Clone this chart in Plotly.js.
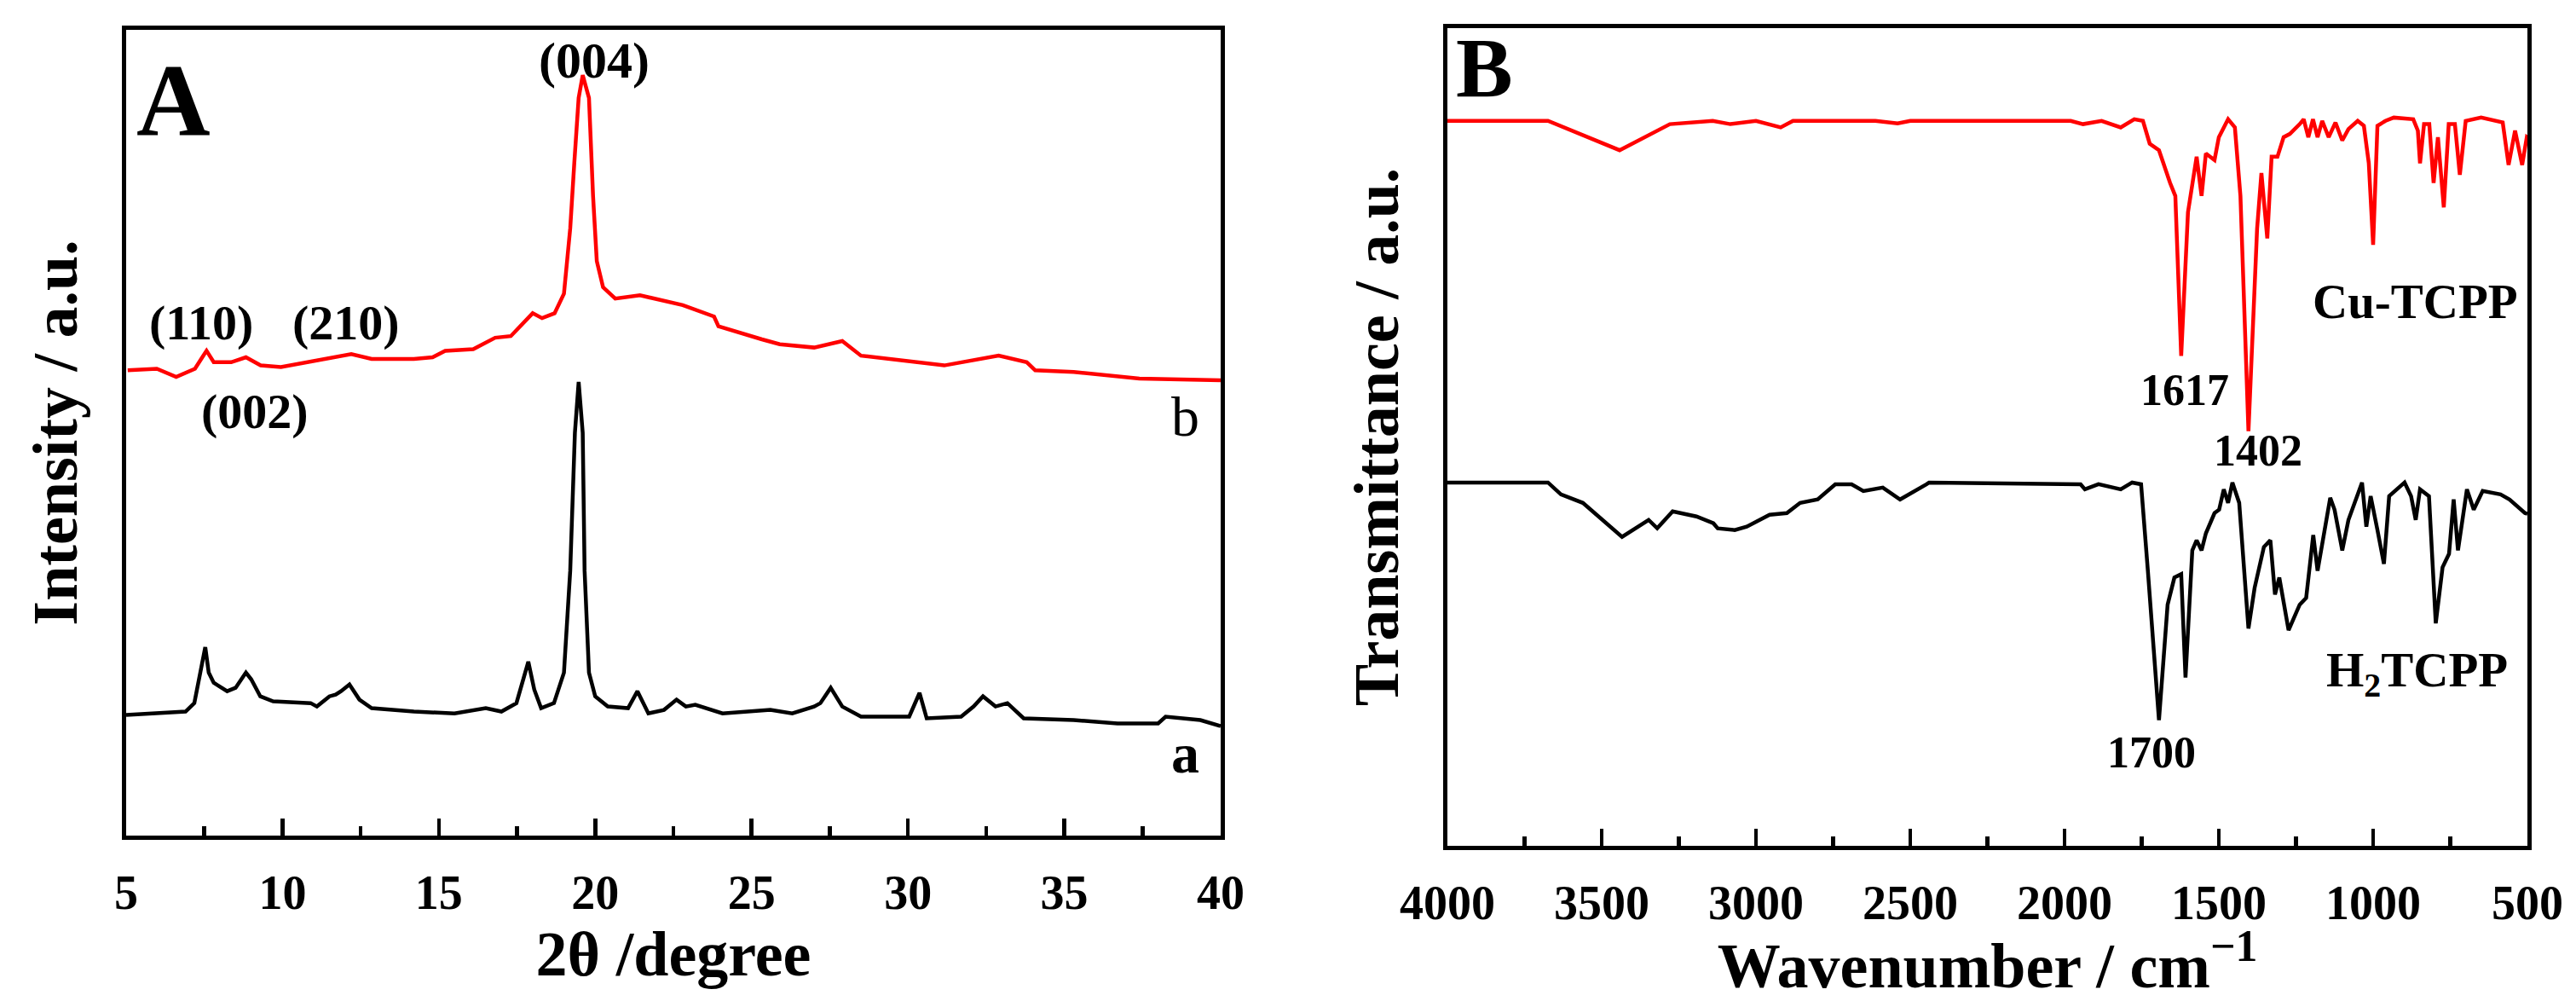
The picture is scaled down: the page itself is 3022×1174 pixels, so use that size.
<!DOCTYPE html>
<html>
<head>
<meta charset="utf-8">
<script src="https://cdn.plot.ly/plotly-3.0.1.min.js"></script>
<style>html,body{margin:0;padding:0;background:#fff;} #chart{width:3022px;height:1174px;}</style>
</head>
<body>
<div id="chart"></div>
<script>
// ---------- Panel A: XRD (2θ in degrees, intensity a.u.) ----------
// curve a : H2TCPP (black)
const xrdA_theta = [5.0, 6.9, 7.18, 7.37, 7.53, 7.64, 7.8, 8.23, 8.5, 8.83, 9.0, 9.29, 9.7, 10.9, 11.1, 11.5, 11.7, 11.87, 12.14, 12.46, 12.85, 14.2, 15.5, 16.5, 17.0, 17.48, 17.7, 17.86, 18.05, 18.27, 18.68, 19.0, 19.2, 19.35, 19.47, 19.6, 19.66, 19.8, 20.0, 20.4, 21.05, 21.35, 21.7, 22.2, 22.6, 22.9, 23.2, 24.07, 25.6, 26.3, 27.0, 27.2, 27.53, 27.9, 28.5, 30.04, 30.37, 30.6, 31.7, 32.1, 32.4, 32.8, 33.18, 33.7, 35.3, 36.7, 38.0, 38.24, 39.35, 39.85, 40.0];
const xrdA_int = [14.97, 15.39, 16.44, 20.23, 23.39, 20.23, 18.97, 17.92, 18.34, 20.23, 19.39, 17.28, 16.66, 16.44, 16.02, 17.28, 17.49, 17.92, 18.76, 16.87, 15.81, 15.39, 15.17, 15.81, 15.39, 16.44, 19.39, 21.58, 18.13, 15.81, 16.44, 20.23, 32.87, 50.0, 56.3, 50.0, 32.87, 20.23, 17.28, 16.02, 15.81, 17.92, 15.17, 15.6, 16.87, 16.02, 16.23, 15.17, 15.6, 15.17, 16.02, 16.44, 18.34, 16.02, 14.76, 14.76, 17.7, 14.55, 14.76, 16.02, 17.28, 16.02, 16.44, 14.55, 14.34, 13.92, 13.92, 14.76, 14.34, 13.7, 13.6];
// curve b : Cu-TCPP (red)
const xrdB_theta = [5.05, 5.98, 6.6, 7.2, 7.4, 7.57, 7.8, 8.36, 8.83, 9.3, 9.95, 11.0, 12.2, 12.85, 14.2, 14.8, 15.2, 16.1, 16.8, 17.3, 17.5, 18.0, 18.3, 18.7, 19.0, 19.2, 19.33, 19.47, 19.6, 19.8, 19.93, 20.05, 20.25, 20.64, 21.43, 22.8, 23.8, 23.94, 25.33, 25.9, 27.0, 27.9, 28.5, 29.77, 31.16, 32.9, 33.8, 34.07, 35.3, 37.4, 39.9, 40.0];
const xrdB_int = [57.74, 57.94, 56.93, 57.94, 59.16, 60.17, 58.75, 58.75, 59.36, 58.35, 58.14, 58.95, 59.76, 59.16, 59.16, 59.36, 60.17, 60.37, 61.79, 61.99, 62.8, 64.83, 64.22, 64.83, 67.26, 75.35, 83.45, 91.55, 94.38, 91.55, 79.4, 71.3, 68.06, 66.65, 67.06, 65.84, 64.42, 63.21, 61.59, 60.98, 60.57, 61.38, 59.56, 58.95, 58.35, 59.56, 58.75, 57.74, 57.53, 56.73, 56.53, 56.5];

// ---------- Panel B: FT-IR (wavenumber cm-1, transmittance a.u.) ----------
const irCu_wn = [4000, 3674, 3442, 3279, 3140, 3083, 3000, 2920, 2880, 2613, 2541, 2500, 1980, 1940, 1880, 1818, 1774, 1746, 1724, 1694, 1658, 1641, 1622, 1600, 1572, 1556, 1542, 1514, 1500, 1470, 1448, 1430, 1404, 1376, 1362, 1343, 1329, 1310, 1290, 1270, 1238, 1225, 1210, 1195, 1180, 1165, 1144, 1122, 1100, 1080, 1050, 1030, 1014, 1000, 986, 960, 933, 870, 855, 848, 835, 818, 804, 790, 771, 755, 735, 719, 700, 650, 580, 561, 540, 517, 502, 500];
const irCu_T = [88.66, 88.66, 85.07, 88.26, 88.66, 88.26, 88.66, 87.86, 88.66, 88.66, 88.34, 88.66, 88.66, 88.26, 88.66, 87.86, 88.86, 88.66, 85.87, 85.07, 81.07, 79.48, 59.91, 77.48, 84.27, 79.48, 84.67, 83.87, 86.66, 88.86, 87.86, 79.48, 50.72, 75.49, 82.27, 74.29, 84.27, 84.27, 86.66, 87.06, 88.26, 88.86, 86.66, 88.86, 86.66, 88.66, 86.66, 88.46, 86.26, 87.66, 88.66, 88.06, 83.47, 73.49, 88.06, 88.66, 89.06, 88.86, 87.46, 83.47, 88.26, 88.26, 81.07, 86.66, 78.08, 88.26, 88.26, 82.07, 88.66, 89.06, 88.46, 83.27, 87.46, 83.27, 86.66, 86.6];
const irH2_wn = [4000, 3674, 3632, 3561, 3434, 3348, 3320, 3270, 3193, 3138, 3124, 3069, 3030, 2956, 2900, 2857, 2800, 2743, 2690, 2652, 2589, 2533, 2447, 2439, 1948, 1934, 1890, 1818, 1781, 1752, 1730, 1694, 1666, 1644, 1622, 1608, 1586, 1572, 1556, 1542, 1514, 1499, 1484, 1470, 1456, 1434, 1404, 1384, 1354, 1333, 1318, 1304, 1274, 1238, 1217, 1194, 1180, 1166, 1139, 1125, 1100, 1080, 1036, 1022, 1008, 986, 965, 948, 898, 877, 862, 848, 819, 797, 775, 754, 739, 725, 696, 674, 645, 587, 558, 508, 500];
const irH2_T = [44.43, 44.43, 42.98, 41.94, 37.79, 39.86, 38.83, 40.9, 40.28, 39.45, 38.83, 38.62, 39.03, 40.49, 40.69, 41.94, 42.36, 44.22, 44.22, 43.39, 43.81, 42.36, 44.22, 44.43, 44.22, 43.6, 44.22, 43.6, 44.43, 44.22, 33.64, 15.38, 29.49, 32.81, 33.22, 20.57, 36.13, 37.37, 36.13, 38.21, 40.69, 41.11, 43.6, 41.94, 44.43, 41.94, 26.58, 31.56, 36.55, 37.37, 30.73, 32.81, 26.37, 29.49, 30.32, 38.0, 33.64, 36.55, 42.56, 41.11, 36.13, 39.86, 44.43, 39.03, 42.77, 38.62, 34.47, 42.77, 44.43, 42.77, 39.86, 43.6, 42.77, 27.21, 34.06, 35.71, 42.36, 36.13, 43.6, 41.11, 43.39, 42.98, 42.36, 40.69, 40.6];

// ---------- text ----------
const xTitleA = '2θ /degree';
const yTitleA = 'Intensity / a.u.';
const xTitleB = 'Wavenumber / cm<sup>−1</sup>';
const yTitleB = 'Transmittance / a.u.';
const xrdTickVals = [5, 10, 15, 20, 25, 30, 35, 40];
const irTickVals = [4000, 3500, 3000, 2500, 2000, 1500, 1000, 500];

const SERIF = 'Liberation Serif, Times New Roman, serif';
const W = 3022, H = 1174;

const traces = [
  {x: xrdA_theta, y: xrdA_int, type: 'scatter', mode: 'lines', line: {color: '#000000', width: 4.5}, xaxis: 'x', yaxis: 'y', hoverinfo: 'skip'},
  {x: xrdB_theta, y: xrdB_int, type: 'scatter', mode: 'lines', line: {color: '#ff0000', width: 4.5}, xaxis: 'x', yaxis: 'y', hoverinfo: 'skip'},
  {x: irCu_wn, y: irCu_T, type: 'scatter', mode: 'lines', line: {color: '#ff0000', width: 4.5}, xaxis: 'x2', yaxis: 'y2', hoverinfo: 'skip'},
  {x: irH2_wn, y: irH2_T, type: 'scatter', mode: 'lines', line: {color: '#000000', width: 4.5}, xaxis: 'x2', yaxis: 'y2', hoverinfo: 'skip'}
];

const tickFont = {family: SERIF, size: 56, color: '#000', weight: 'bold'};
const titleFont = {family: SERIF, size: 74, color: '#000', weight: 'bold'};

function xAxis(domain, range, tickvals, minorStep, title, anchor) {
  return {
    domain: domain, range: range, anchor: anchor, tickmode: 'array', tickvals: tickvals,
    ticks: 'inside', ticklen: 20, tickwidth: 4.5, tickcolor: '#000',
    minor: {dtick: minorStep, ticks: 'inside', ticklen: 11, tickwidth: 4.5, tickcolor: '#000', showgrid: false},
    showline: true, linewidth: 5, linecolor: '#000', mirror: true,
    showgrid: false, zeroline: false, tickfont: tickFont, ticklabelstandoff: 14,
    title: {text: title, font: titleFont, standoff: 14}
  };
}
function yAxis(domain, title, anchor) {
  return {
    domain: domain, range: [0, 100], anchor: anchor, showticklabels: false, ticks: '',
    showline: true, linewidth: 5, linecolor: '#000', mirror: true,
    showgrid: false, zeroline: false,
    title: {text: title, font: titleFont, standoff: 30}
  };
}

const annFont = (s, bold) => ({family: SERIF, size: s, color: '#000', weight: bold ? 'bold' : 'normal'});
function ann(text, xr, yr, x, y, size, bold) {
  return {text: text, xref: xr, yref: yr, x: x, y: y, xanchor: 'center', yanchor: 'middle', showarrow: false, font: annFont(size, bold)};
}

const layout = {
  width: W, height: H, margin: {l: 0, r: 0, t: 0, b: 0},
  paper_bgcolor: '#ffffff', plot_bgcolor: '#ffffff', showlegend: false,
  xaxis: xAxis([148 / W, 1432 / W], [5, 40], xrdTickVals, 2.5, xTitleA, 'y'),
  yaxis: yAxis([1 - 980 / H, 1 - 35 / H], yTitleA, 'x'),
  xaxis2: xAxis([1698 / W, 2965 / W], [4000, 500], irTickVals, 250, xTitleB, 'y2'),
  yaxis2: yAxis([1 - 992 / H, 1 - 33 / H], yTitleB, 'x2'),
  annotations: [
    ann('A', 'x domain', 'y domain', 0.043, 0.913, 120, true),
    ann('(004)', 'x domain', 'y domain', 0.4276, 0.962, 60, true),
    ann('(110)', 'x domain', 'y domain', 0.0685, 0.636, 58, true),
    ann('(210)', 'x domain', 'y domain', 0.2009, 0.636, 58, true),
    ann('(002)', 'x domain', 'y domain', 0.1176, 0.526, 58, true),
    ann('b', 'x domain', 'y domain', 0.968, 0.5196, 66, false),
    ann('a', 'x domain', 'y domain', 0.968, 0.1016, 66, true),
    ann('B', 'x2 domain', 'y2 domain', 0.0347, 0.951, 100, true),
    ann('1617', 'x2 domain', 'y2 domain', 0.6827, 0.557, 52, true),
    ann('1402', 'x2 domain', 'y2 domain', 0.7506, 0.4838, 52, true),
    ann('Cu-TCPP', 'x2 domain', 'y2 domain', 0.8966, 0.6663, 57, true),
    ann('H<sub>2</sub>TCPP', 'x2 domain', 'y2 domain', 0.898, 0.2106, 57, true),
    ann('1700', 'x2 domain', 'y2 domain', 0.652, 0.1137, 52, true)
  ]
};

Plotly.newPlot('chart', traces, layout, {staticPlot: true, displayModeBar: false});
</script>
</body>
</html>
